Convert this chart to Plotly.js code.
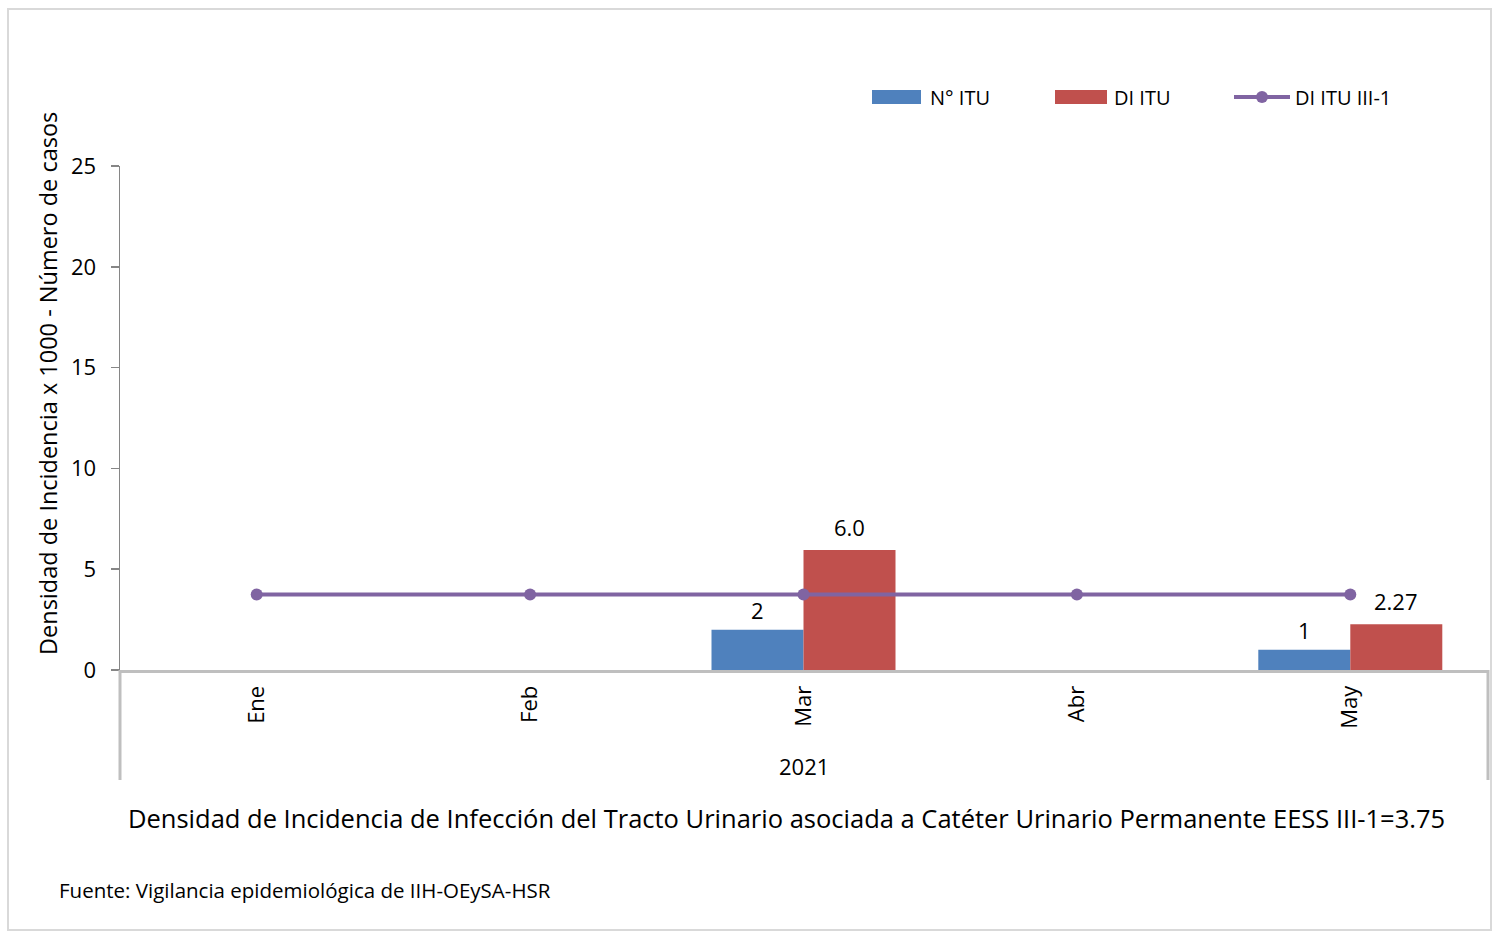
<!DOCTYPE html>
<html>
<head>
<meta charset="utf-8">
<script src="https://cdn.plot.ly/plotly-3.0.1.min.js"></script>
<style>
  html, body { margin: 0; padding: 0; background: #ffffff; }
  #chart { width: 1493px; height: 932px; }
</style>
</head>
<body>
<div id="chart"></div>
<script>
// ---- data ----
const months = ["Ene", "Feb", "Mar", "Abr", "May"];
const yearLabel = "2021";
const nItu = [null, null, 2, null, 1];
const nItuText = ["", "", "2", "", "1"];
const diItu = [null, null, 5.95, null, 2.27];
const diItuText = ["", "", "6.0", "", "2.27"];
const diItuRef = [3.75, 3.75, 3.75, 3.75, 3.75];
const seriesNames = ["N° ITU", "DI ITU", "DI ITU III-1"];
const seriesColors = ["#4F81BD", "#C0504D", "#8064A2"];
const yTicks = [0, 5, 10, 15, 20, 25];
const yTitle = "Densidad de Incidencia x 1000 - Número de casos";
const chartTitle = "Densidad de Incidencia de Infección del Tracto Urinario asociada a Catéter Urinario Permanente EESS III-1=3.75";
const footnote = "Fuente: Vigilancia epidemiológica de IIH-OEySA-HSR";

const FONT = "Open Sans, Noto Sans, sans-serif";

const traces = [
  {
    type: "bar", name: seriesNames[0], x: months, y: nItu,
    marker: { color: seriesColors[0] },
    showlegend: false, hoverinfo: "x+y"
  },
  {
    type: "bar", name: seriesNames[1], x: months, y: diItu,
    marker: { color: seriesColors[1] },
    showlegend: false, hoverinfo: "x+y"
  },
  {
    type: "scatter", mode: "lines+markers", name: seriesNames[2], x: months, y: diItuRef,
    line: { color: seriesColors[2], width: 4 },
    marker: { color: seriesColors[2], size: 12 },
    showlegend: false, cliponaxis: false
  }
];

// pixel -> paper helpers (plot area: x 120..1487, y 166..670)
const L = 120, T = 166, W = 1367, H = 504;
const px = v => (v - L) / W;
const py = v => (T + H - v) / H;

const shapes = [
  // outer border
  { type: "rect", xref: "paper", yref: "paper", x0: px(8), x1: px(1491), y0: py(930), y1: py(9),
    line: { color: "#D9D9D9", width: 2 }, layer: "below" },
  // category dividers
  { type: "line", xref: "paper", yref: "paper", x0: 0, x1: 0, y0: py(670), y1: py(780),
    line: { color: "#BFBFBF", width: 3 } },
  { type: "line", xref: "paper", yref: "paper", x0: px(1488), x1: px(1488), y0: py(670), y1: py(780),
    line: { color: "#BFBFBF", width: 3 } },
  // legend swatches
  { type: "rect", xref: "paper", yref: "paper", x0: px(872), x1: px(921), y0: py(104), y1: py(90),
    fillcolor: seriesColors[0], line: { width: 0 } },
  { type: "rect", xref: "paper", yref: "paper", x0: px(1055), x1: px(1107), y0: py(104), y1: py(90),
    fillcolor: seriesColors[1], line: { width: 0 } },
  { type: "line", xref: "paper", yref: "paper", x0: px(1234), x1: px(1290), y0: py(97), y1: py(97),
    line: { color: seriesColors[2], width: 4 } },
  { type: "circle", xref: "paper", yref: "paper", xsizemode: "pixel", ysizemode: "pixel",
    xanchor: px(1262), yanchor: py(97), x0: -6, x1: 6, y0: -6, y1: 6,
    fillcolor: seriesColors[2], line: { width: 0 } }
];

const annotations = [
  { text: yTitle, xref: "paper", yref: "paper", x: px(48), y: py(384), textangle: -90,
    showarrow: false, font: { size: 23.5, color: "#000", family: FONT }, xanchor: "center", yanchor: "middle" },
  { text: yearLabel, xref: "paper", yref: "paper", x: px(804), y: py(766),
    showarrow: false, font: { size: 22, color: "#000", family: FONT }, xanchor: "center", yanchor: "middle" },
  { text: chartTitle, xref: "paper", yref: "paper", x: px(786), y: py(818),
    showarrow: false, font: { size: 25.5, color: "#000", family: FONT }, xanchor: "center", yanchor: "middle" },
  { text: footnote, xref: "paper", yref: "paper", x: px(57), y: py(890),
    showarrow: false, font: { size: 20.5, color: "#000", family: FONT }, xanchor: "left", yanchor: "middle" },
  { text: seriesNames[0], xref: "paper", yref: "paper", x: px(928), y: py(97),
    showarrow: false, font: { size: 20, color: "#000", family: FONT }, xanchor: "left", yanchor: "middle" },
  { text: seriesNames[1], xref: "paper", yref: "paper", x: px(1112), y: py(97),
    showarrow: false, font: { size: 20, color: "#000", family: FONT }, xanchor: "left", yanchor: "middle" },
  { text: seriesNames[2], xref: "paper", yref: "paper", x: px(1293), y: py(97),
    showarrow: false, font: { size: 20, color: "#000", family: FONT }, xanchor: "left", yanchor: "middle" }
];

// value labels placed over each bar (from the data arrays)
const barHalf = 46;
months.forEach((m, i) => {
  if (nItu[i] !== null && nItuText[i]) {
    annotations.push({ text: nItuText[i], x: m, y: nItu[i], xref: "x", yref: "y",
      xshift: -barHalf, yshift: 20, showarrow: false, xanchor: "center", yanchor: "middle",
      font: { size: 22, color: "#000", family: FONT } });
  }
  if (diItu[i] !== null && diItuText[i]) {
    annotations.push({ text: diItuText[i], x: m, y: diItu[i], xref: "x", yref: "y",
      xshift: barHalf, yshift: 23, showarrow: false, xanchor: "center", yanchor: "middle",
      font: { size: 22, color: "#000", family: FONT } });
  }
});

const layout = {
  width: 1493, height: 932,
  margin: { l: L, r: 1493 - L - W, t: T, b: 932 - T - H, pad: 0 },
  paper_bgcolor: "#ffffff", plot_bgcolor: "#ffffff",
  font: { family: FONT, color: "#000" },
  barmode: "group", bargap: 0.327, bargroupgap: 0,
  showlegend: false,
  xaxis: {
    type: "category", tickangle: -90, tickfont: { size: 22, color: "#000", family: FONT },
    showline: true, linecolor: "#BFBFBF", linewidth: 3, ticks: "", showgrid: false, zeroline: false,
    ticklabelstandoff: 4, fixedrange: true
  },
  yaxis: {
    range: [0, 25], tickvals: yTicks, ticks: "outside", ticklen: 8, tickcolor: "#868686", tickwidth: 1.5,
    showline: true, linecolor: "#868686", linewidth: 1.5, showgrid: false, zeroline: false,
    tickfont: { size: 22, color: "#000", family: FONT }, ticklabelstandoff: 10, fixedrange: true
  },
  shapes: shapes,
  annotations: annotations
};

Plotly.newPlot("chart", traces, layout, { displayModeBar: false, staticPlot: true });
</script>
</body>
</html>
